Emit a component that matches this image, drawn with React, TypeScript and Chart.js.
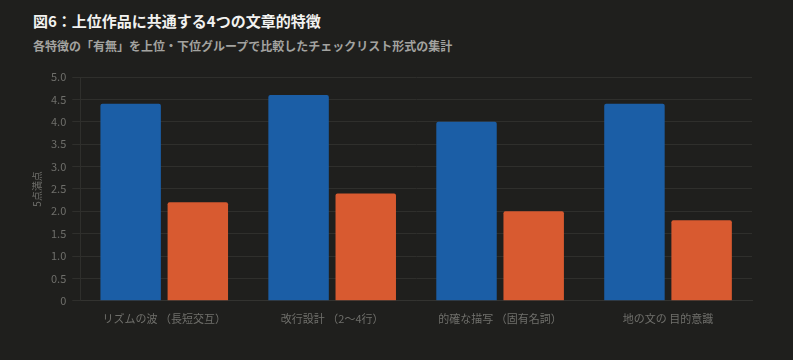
import React, { useEffect, useRef } from "react";
import { Chart, registerables } from "chart.js";

Chart.register(...registerables);

const categories = ["リズムの波 （長短交互）", "改行設計 （2〜4行）", "的確な描写 （固有名詞）", "地の文の 目的意識"];
const topGroup = [4.4, 4.6, 4.0, 4.4];
const bottomGroup = [2.2, 2.4, 2.0, 1.8];
const seriesNames = ["上位グループ", "下位グループ"];
const yTitle = "5点満点";
const titleText = "図6：上位作品に共通する4つの文章的特徴";
const subtitleText = "各特徴の「有無」を上位・下位グループで比較したチェックリスト形式の集計";

const FONT = "'Noto Sans CJK JP', 'Noto Sans', sans-serif";

export default function App() {
  const ref = useRef<HTMLCanvasElement | null>(null);
  useEffect(() => {
    document.body.style.margin = "0";
    document.body.style.background = "#1f1f1d";
    const chart = new Chart(ref.current!, {
      type: "bar",
      data: {
        labels: categories,
        datasets: [
          { label: seriesNames[0], data: topGroup, backgroundColor: "#1b5ea6", borderRadius: 2, borderSkipped: "bottom" },
          { label: seriesNames[1], data: bottomGroup, backgroundColor: "#d85a30", borderRadius: 2, borderSkipped: "bottom" },
        ],
      },
      options: {
        animation: false,
        responsive: false,
        maintainAspectRatio: false,
        layout: { padding: { top: 77, left: 29, right: 41, bottom: 32 } },
        plugins: { legend: { display: false }, tooltip: { enabled: false } },
        datasets: { bar: { categoryPercentage: 0.8, barPercentage: 0.9 } },
        scales: {
          x: {
            grid: { display: false },
            border: { color: "#333330" },
            ticks: { color: "#6f6f6b", font: { family: FONT, size: 11 }, padding: 3, maxRotation: 0 },
          },
          y: {
            min: 0,
            max: 5,
            ticks: {
              stepSize: 0.5,
              color: "#6f6f6b",
              font: { family: FONT, size: 11 },
              padding: 6,
              callback: (v: any) => (Number(v) === 0 ? "0" : Number(v).toFixed(1)),
            },
            grid: { color: "#2f2f2c", tickLength: 8 },
            border: { color: "#2f2f2c" },
            title: { display: true, text: yTitle, color: "#6f6f6b", font: { family: FONT, size: 10 }, padding: 2 },
          },
        },
      },
    });
    return () => chart.destroy();
  }, []);
  return (
    <div style={{ position: "relative", width: 793, height: 360, background: "#1f1f1d", overflow: "hidden" }}>
      <div style={{ position: "absolute", left: 33, top: 10, color: "#f2f2f0", fontFamily: FONT, fontWeight: 700, fontSize: 15 }}>
        {titleText}
      </div>
      <div style={{ position: "absolute", left: 33, top: 37, color: "#a3a3a0", fontFamily: FONT, fontWeight: 700, fontSize: 12 }}>
        {subtitleText}
      </div>
      <canvas ref={ref} width={793} height={360} style={{ position: "absolute", left: 0, top: 0 }} />
    </div>
  );
}
